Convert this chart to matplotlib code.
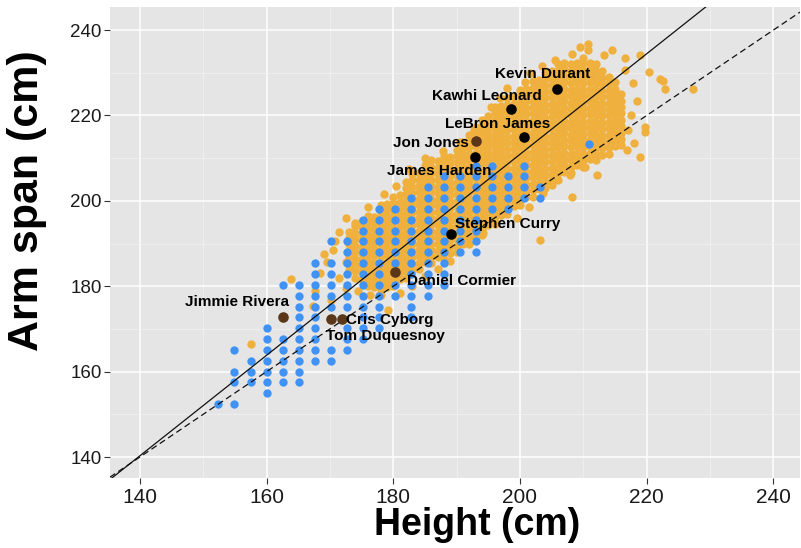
import matplotlib.pyplot as plt

plt.rcParams['font.family'] = ['Liberation Sans', 'DejaVu Sans']

# UFC fighters: measured in whole inches, grouped by arm span row
ufc_span_in = [60, 61, 62, 63, 64, 65, 66, 67, 68, 69, 70, 71,
               72, 73, 74, 75, 76, 77, 78, 79, 80, 81, 82, 84]
ufc_height_in = [
    [60, 61],
    [63],
    [61, 62, 63, 64, 65],
    [61, 62, 63, 64, 65],
    [62, 63, 64, 65, 66, 67],
    [61, 63, 64, 65, 66, 67, 68],
    [63, 64, 65, 66, 68, 69],
    [63, 65, 66, 68, 69, 70],
    [65, 66, 69, 70, 72],
    [65, 66, 67, 68, 69, 70, 72],
    [65, 66, 67, 68, 69, 70, 71, 72, 73],
    [64, 65, 66, 67, 68, 69, 70, 71, 72, 73, 74],
    [66, 67, 68, 69, 70, 72, 73, 74],
    [66, 67, 68, 69, 70, 71, 72, 73, 74],
    [68, 69, 70, 71, 72, 73, 74, 75, 76],
    [67, 68, 69, 70, 71, 72, 73, 74, 75, 76],
    [69, 70, 71, 72, 73, 74, 75, 76],
    [69, 70, 71, 72, 73, 74, 75, 76],
    [70, 71, 72, 73, 74, 75, 76, 77, 78],
    [72, 73, 74, 75, 76, 77, 78, 79, 80],
    [73, 74, 75, 76, 77, 78, 79, 80],
    [74, 75, 76, 77, 78, 79],
    [76, 77, 79],
    [83],
]

# NBA players (cm): dense core, one list of spans per height column
nba_col_height = [173, 174, 175, 176, 177, 178, 179, 180, 181, 182, 183, 184, 185,
                  186, 187, 188, 189, 190, 191, 192, 193, 194, 195, 196, 197, 198,
                  199, 200, 201, 202, 203, 204, 205, 206, 207, 208, 209, 210, 211,
                  212, 213, 214, 215, 216]
nba_col_span = [
    [183.8, 185.3, 186.8, 188.3, 189.8, 191.3, 192.8],
    [182, 183.5, 185, 186.5, 188, 189.5, 191, 192.5, 194],
    [181.8, 183.3, 184.8, 186.3, 187.8, 189.3, 190.8, 192.3, 193.8, 195.3],
    [180, 181.5, 183, 184.5, 186, 187.5, 189, 190.5, 192, 193.5, 195, 196.5],
    [179.8, 181.3, 182.8, 184.3, 185.8, 187.3, 188.8, 190.3, 191.8, 193.3, 194.8, 196.3],
    [178, 179.5, 181, 182.5, 184, 185.5, 187, 188.5, 190, 191.5, 193, 194.5, 196, 197.5, 199],
    [179.8, 181.3, 182.8, 184.3, 185.8, 187.3, 188.8, 190.3, 191.8, 193.3, 194.8, 196.3, 197.8, 199.3],
    [180, 181.5, 183, 184.5, 186, 187.5, 189, 190.5, 192, 193.5, 195, 196.5, 198, 199.5, 201],
    [181.8, 183.3, 184.8, 186.3, 187.8, 189.3, 190.8, 192.3, 193.8, 195.3, 196.8, 198.3, 199.8, 201.3],
    [182, 183.5, 185, 186.5, 188, 189.5, 191, 192.5, 194, 195.5, 197, 198.5, 200, 201.5, 203, 204.5],
    [183.8, 185.3, 186.8, 188.3, 189.8, 191.3, 192.8, 194.3, 195.8, 197.3, 198.8, 200.3, 201.8, 203.3,
     204.8, 206.3],
    [184, 185.5, 187, 188.5, 190, 191.5, 193, 194.5, 196, 197.5, 199, 200.5, 202, 203.5, 205, 206.5],
    [185.8, 187.3, 188.8, 190.3, 191.8, 193.3, 194.8, 196.3, 197.8, 199.3, 200.8, 202.3, 203.8, 205.3,
     206.8, 208.3],
    [185.5, 187, 188.5, 190, 191.5, 193, 194.5, 196, 197.5, 199, 200.5, 202, 203.5, 205, 206.5, 208,
     209.5],
    [186.8, 188.3, 189.8, 191.3, 192.8, 194.3, 195.8, 197.3, 198.8, 200.3, 201.8, 203.3, 204.8, 206.3,
     207.8, 209.3],
    [186.5, 188, 189.5, 191, 192.5, 194, 195.5, 197, 198.5, 200, 201.5, 203, 204.5, 206, 207.5, 209,
     210.5],
    [187.8, 189.3, 190.8, 192.3, 193.8, 195.3, 196.8, 198.3, 199.8, 201.3, 202.8, 204.3, 205.8, 207.3,
     208.8, 210.3],
    [188, 189.5, 191, 192.5, 194, 195.5, 197, 198.5, 200, 201.5, 203, 204.5, 206, 207.5, 209, 210.5, 212],
    [189.8, 191.3, 192.8, 194.3, 195.8, 197.3, 198.8, 200.3, 201.8, 203.3, 204.8, 206.3, 207.8, 209.3,
     210.8, 212.3, 213.8],
    [190, 191.5, 193, 194.5, 196, 197.5, 199, 200.5, 202, 203.5, 205, 206.5, 208, 209.5, 211, 212.5,
     214, 215.5],
    [191.8, 193.3, 194.8, 196.3, 197.8, 199.3, 200.8, 202.3, 203.8, 205.3, 206.8, 208.3, 209.8, 211.3,
     212.8, 214.3, 215.8, 217.3],
    [192, 193.5, 195, 196.5, 198, 199.5, 201, 202.5, 204, 205.5, 207, 208.5, 210, 211.5, 213, 214.5,
     216, 217.5, 219],
    [194.3, 195.8, 197.3, 198.8, 200.3, 201.8, 203.3, 204.8, 206.3, 207.8, 209.3, 210.8, 212.3, 213.8,
     215.3, 216.8, 218.3, 219.8],
    [195, 196.5, 198, 199.5, 201, 202.5, 204, 205.5, 207, 208.5, 210, 211.5, 213, 214.5, 216, 217.5,
     219, 220.5, 222],
    [196.8, 198.3, 199.8, 201.3, 202.8, 204.3, 205.8, 207.3, 208.8, 210.3, 211.8, 213.3, 214.8, 216.3,
     217.8, 219.3, 220.8, 222.3],
    [197, 198.5, 200, 201.5, 203, 204.5, 206, 207.5, 209, 210.5, 212, 213.5, 215, 216.5, 218, 219.5,
     221, 222.5, 224],
    [198.8, 200.3, 201.8, 203.3, 204.8, 206.3, 207.8, 209.3, 210.8, 212.3, 213.8, 215.3, 216.8, 218.3,
     219.8, 221.3, 222.8, 224.3],
    [199, 200.5, 202, 203.5, 205, 206.5, 208, 209.5, 211, 212.5, 214, 215.5, 217, 218.5, 220, 221.5,
     223, 224.5, 226],
    [200.8, 202.3, 203.8, 205.3, 206.8, 208.3, 209.8, 211.3, 212.8, 214.3, 215.8, 217.3, 218.8, 220.3,
     221.8, 223.3, 224.8, 226.3],
    [201, 202.5, 204, 205.5, 207, 208.5, 210, 211.5, 213, 214.5, 216, 217.5, 219, 220.5, 222, 223.5,
     225, 226.5, 228],
    [202.8, 204.3, 205.8, 207.3, 208.8, 210.3, 211.8, 213.3, 214.8, 216.3, 217.8, 219.3, 220.8, 222.3,
     223.8, 225.3, 226.8, 228.3],
    [203, 204.5, 206, 207.5, 209, 210.5, 212, 213.5, 215, 216.5, 218, 219.5, 221, 222.5, 224, 225.5,
     227, 228.5, 230],
    [204.8, 206.3, 207.8, 209.3, 210.8, 212.3, 213.8, 215.3, 216.8, 218.3, 219.8, 221.3, 222.8, 224.3,
     225.8, 227.3, 228.8, 230.3],
    [205, 206.5, 208, 209.5, 211, 212.5, 214, 215.5, 217, 218.5, 220, 221.5, 223, 224.5, 226, 227.5,
     229, 230.5, 232],
    [206.8, 208.3, 209.8, 211.3, 212.8, 214.3, 215.8, 217.3, 218.8, 220.3, 221.8, 223.3, 224.8, 226.3,
     227.8, 229.3, 230.8, 232.3],
    [206.5, 208, 209.5, 211, 212.5, 214, 215.5, 217, 218.5, 220, 221.5, 223, 224.5, 226, 227.5, 229,
     230.5, 232],
    [208.3, 209.8, 211.3, 212.8, 214.3, 215.8, 217.3, 218.8, 220.3, 221.8, 223.3, 224.8, 226.3, 227.8,
     229.3, 230.8, 232.3],
    [208, 209.5, 211, 212.5, 214, 215.5, 217, 218.5, 220, 221.5, 223, 224.5, 226, 227.5, 229, 230.5,
     232, 233.5],
    [209.8, 211.3, 212.8, 214.3, 215.8, 217.3, 218.8, 220.3, 221.8, 223.3, 224.8, 226.3, 227.8, 229.3,
     230.8, 232.3],
    [209.5, 211, 212.5, 214, 215.5, 217, 218.5, 220, 221.5, 223, 224.5, 226, 227.5, 229, 230.5, 232],
    [210.8, 212.3, 213.8, 215.3, 216.8, 218.3, 219.8, 221.3, 222.8, 224.3, 225.8, 227.3, 228.8, 230.3],
    [211, 212.5, 214, 215.5, 217, 218.5, 220, 221.5, 223, 224.5, 226, 227.5, 229],
    [212.8, 214.3, 215.8, 217.3, 218.8, 220.3, 221.8, 223.3, 224.8, 226.3, 227.8],
    [213, 214.5, 216, 217.5, 219, 220.5, 222, 223.5, 225],
]

# NBA players (cm): scattered points around the core
nba_extra_height = [157.5, 163.8, 167.6, 167.3, 170.2, 169.6, 172.6, 171.4, 172.6, 174.0,
                    170.5, 171.5, 172.5, 174.5, 176.3, 177.9, 179.2, 181.0, 183.0, 185.0,
                    187.0, 189.0, 168.5, 170.8, 169.0,
                    187.9, 190.6, 192.7, 195.5, 196.9, 200.8, 201.6, 198.0, 203.5, 205.5,
                    185.0, 182.5, 180.5, 178.5, 176.0,
                    208.2, 209.5, 210.8, 210.8, 213.2, 214.5, 216.6, 219.0, 220.4, 222.1,
                    222.6, 222.9, 227.3, 217.8, 216.6, 219.7, 219.7, 215.8, 216.9, 218.9,
                    212.1, 210.3, 217.5, 218.5, 217.0, 218.0,
                    208.2, 205.0, 203.7, 203.2, 207.9, 201.5, 194.2, 192.1, 196.0, 199.5]
nba_extra_span = [166.5, 181.7, 179.0, 175.4, 176.8, 185.6, 185.6, 192.6, 195.9, 194.7,
                  188.5, 182.0, 179.5, 179.0, 177.9, 178.3, 174.4, 178.5, 180.0, 182.5,
                  184.0, 186.0, 183.0, 190.5, 187.5,
                  211.6, 213.8, 216.6, 221.9, 224.1, 227.8, 230.0, 226.5, 231.5, 233.0,
                  210.0, 207.5, 203.5, 201.5, 198.5,
                  234.4, 236.1, 236.8, 235.3, 234.1, 235.3, 233.4, 234.1, 230.2, 228.5,
                  228.0, 226.3, 226.3, 227.7, 230.6, 217.4, 216.2, 213.8, 211.9, 210.3,
                  206.0, 208.0, 220.0, 223.5, 216.5, 213.5,
                  201.0, 203.7, 201.8, 190.8, 206.0, 198.5, 192.4, 194.0, 194.5, 196.0]

# highlighted athletes
star_names = ['Kevin Durant', 'Kawhi Leonard', 'LeBron James', 'Jon Jones', 'James Harden',
              'Stephen Curry', 'Daniel Cormier', 'Cris Cyborg', 'Tom Duquesnoy', 'Jimmie Rivera']
star_height = [205.9, 198.6, 200.6, 193.1, 192.9, 189.1, 180.3, 171.9, 170.2, 162.6]
star_span = [226.1, 221.4, 215.0, 214.0, 210.3, 192.2, 183.3, 172.4, 172.4, 172.9]
star_league = ['NBA', 'NBA', 'NBA', 'UFC', 'NBA', 'NBA', 'UFC', 'UFC', 'UFC', 'UFC']

# fitted line and the arm span = height line
fit_slope, fit_intercept = 1.177, -24.5

# flatten
ufc_h, ufc_s = [], []
for span, heights in zip(ufc_span_in, ufc_height_in):
    for h in heights:
        ufc_h.append(h * 2.54)
        ufc_s.append(span * 2.54)

nba_h, nba_s = [], []
for h, spans in zip(nba_col_height, nba_col_span):
    nba_h += [h] * len(spans)
    nba_s += spans
nba_h += nba_extra_height
nba_s += nba_extra_span

fig = plt.figure(figsize=(8.01, 5.48), dpi=100)
ax = fig.add_axes([110 / 801, 70 / 548, 690 / 801, 471 / 548])
ax.set_facecolor('#E5E5E5')

ax.scatter(nba_h, nba_s, s=36, color='#EFB03D', linewidths=0, zorder=2)
ax.scatter(ufc_h, ufc_s, s=36, color='#4192F5', linewidths=0, zorder=3)

ax.axline((150, fit_slope * 150 + fit_intercept), slope=fit_slope, color='#111111', lw=0.9, zorder=4)
ax.axline((150, 150), slope=1, color='#111111', lw=0.9, ls=(0, (5, 3)), zorder=4)

# label offsets in pixels
offsets = [(-15, 15), (-24, 13), (-26, 13), (-45, -2), (-36, -14),
           (57, 10), (66, -9), (48, -1), (54, -17), (-46, 15)]
for name, h, s, lg, off in zip(star_names, star_height, star_span, star_league, offsets):
    col = 'black' if lg == 'NBA' else '#5A3719'
    ax.scatter([h], [s], s=58, color=col, linewidths=0, zorder=5)
    ax.annotate(name, (h, s), xytext=off, textcoords='offset pixels', ha='center', va='center',
                fontsize=11, fontweight='bold', color='black', zorder=6)

ax.set_xlim(135.3, 244.2)
ax.set_ylim(135.1, 245.4)
ax.set_xticks(range(140, 241, 20))
ax.set_yticks(range(140, 241, 20))
ax.set_xticks(range(150, 241, 20), minor=True)
ax.set_yticks(range(150, 241, 20), minor=True)
ax.grid(which='major', color='white', lw=1.1)
ax.grid(which='minor', color='#F2F2F2', lw=0.5)
ax.set_axisbelow(True)
for sp in ax.spines.values():
    sp.set_visible(False)
ax.tick_params(which='major', length=4, width=0.8, color='#333333', labelcolor='#1A1A1A')
ax.tick_params(which='minor', length=0)
ax.tick_params(axis='x', labelsize=15, pad=3)
ax.tick_params(axis='y', labelsize=13.5, pad=2)

fig.text(477 / 801, 1 - 525 / 548, 'Height (cm)', ha='center', va='center',
         fontsize=27, fontweight='bold')
fig.text(27 / 801, 1 - 201 / 548, 'Arm span (cm)', ha='center', va='center', rotation=90,
         fontsize=31, fontweight='bold')

fig.savefig('out.png', dpi=100)
